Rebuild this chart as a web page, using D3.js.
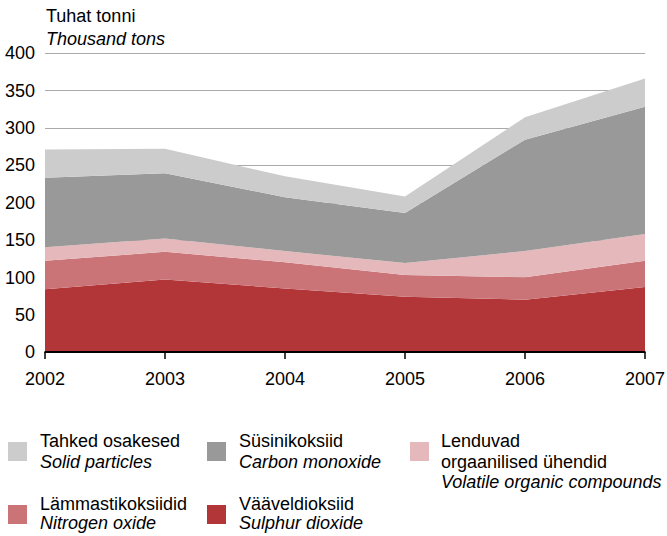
<!DOCTYPE html>
<html>
<head>
<meta charset="utf-8">
<script src="https://cdn.jsdelivr.net/npm/d3@7"></script>
<style>
  body { margin: 0; background: #fff; }
  svg { display: block; font-family: "Liberation Sans", Arial, sans-serif; }
  .grid line { stroke: #aaa; stroke-width: 1; }
  .tick-label { font-size: 18px; fill: #000; }
  .legend-text { font-size: 18px; fill: #000; }
  .it { font-style: italic; }
</style>
</head>
<body>
<svg width="667" height="536"></svg>
<script>
const years = [2002, 2003, 2004, 2005, 2006, 2007];
const yTicks = [0, 50, 100, 150, 200, 250, 300, 350, 400];

// Values in thousand tons, bottom layer first
const sulphurDioxide = [84, 97, 85, 74, 70, 87];
const nitrogenOxide = [38, 37, 35, 29, 30, 35];
const volatileOrganic = [18, 18, 15, 16, 35, 36];
const carbonMonoxide = [93, 87, 72, 67, 149, 170];
const solidParticles = [38, 33, 28, 22, 30, 38];

const series = [
  { key: "so2", values: sulphurDioxide, color: "#b23538", et: ["Vääveldioksiid"], en: "Sulphur dioxide" },
  { key: "nox", values: nitrogenOxide, color: "#cb7478", et: ["Lämmastikoksiidid"], en: "Nitrogen oxide" },
  { key: "voc", values: volatileOrganic, color: "#e5b9bb", et: ["Lenduvad", "orgaanilised ühendid"], en: "Volatile organic compounds" },
  { key: "co", values: carbonMonoxide, color: "#999999", et: ["Süsinikoksiid"], en: "Carbon monoxide" },
  { key: "solid", values: solidParticles, color: "#cccccc", et: ["Tahked osakesed"], en: "Solid particles" },
];

const svg = d3.select("svg");

const x = d3.scaleLinear().domain([2002, 2007]).range([45, 645]);
const y = d3.scaleLinear().domain([0, 400]).range([352, 53]);

// Build table for stack
const table = years.map((yr, i) => {
  const row = { year: yr };
  series.forEach((s) => (row[s.key] = s.values[i]));
  return row;
});
const stacked = d3.stack().keys(series.map((s) => s.key))(table);

// Gridlines
svg
  .append("g")
  .attr("class", "grid")
  .selectAll("line")
  .data(yTicks.filter((t) => t > 0))
  .enter()
  .append("line")
  .attr("x1", x(2002))
  .attr("x2", x(2007))
  .attr("y1", (d) => Math.round(y(d)) + 0.5)
  .attr("y2", (d) => Math.round(y(d)) + 0.5);

// Areas
const area = d3
  .area()
  .x((d) => x(d.data.year))
  .y0((d) => y(d[0]))
  .y1((d) => y(d[1]));

svg
  .selectAll(".layer")
  .data(stacked)
  .enter()
  .append("path")
  .attr("class", "layer")
  .attr("fill", (d, i) => series[i].color)
  .attr("d", area);

// Y tick labels
svg
  .selectAll(".ylab")
  .data(yTicks)
  .enter()
  .append("text")
  .attr("class", "tick-label")
  .attr("x", 35)
  .attr("y", (d) => y(d))
  .attr("dy", "0.35em")
  .attr("text-anchor", "end")
  .text((d) => d);

// X axis baseline and ticks
svg
  .append("line")
  .attr("x1", x(2002) - 0.5)
  .attr("x2", x(2007) + 0.5)
  .attr("y1", 352)
  .attr("y2", 352)
  .attr("stroke", "#000")
  .attr("stroke-width", 2.2);

svg
  .selectAll(".xtick")
  .data(years)
  .enter()
  .append("line")
  .attr("x1", (d) => x(d))
  .attr("x2", (d) => x(d))
  .attr("y1", 352)
  .attr("y2", 359)
  .attr("stroke", "#000")
  .attr("stroke-width", 1.5);

svg
  .selectAll(".xlab")
  .data(years)
  .enter()
  .append("text")
  .attr("class", "tick-label")
  .attr("x", (d) => x(d))
  .attr("y", 385)
  .attr("text-anchor", "middle")
  .text((d) => d);

// Unit title
svg.append("text").attr("class", "tick-label").attr("x", 46).attr("y", 22).text("Tuhat tonni");
svg.append("text").attr("class", "tick-label it").attr("x", 46).attr("y", 45).text("Thousand tons");

// Legend
const legendOrder = [
  { key: "solid", sx: 8, sy: 442, tx: 40, ty: 447 },
  { key: "co", sx: 207, sy: 442, tx: 239, ty: 447 },
  { key: "voc", sx: 410, sy: 442, tx: 441, ty: 447 },
  { key: "nox", sx: 8, sy: 505, tx: 40, ty: 510 },
  { key: "so2", sx: 207, sy: 505, tx: 239, ty: 510 },
];

legendOrder.forEach((l) => {
  const s = series.find((d) => d.key === l.key);
  const g = svg.append("g");
  g.append("rect")
    .attr("x", l.sx)
    .attr("y", l.sy)
    .attr("width", 19)
    .attr("height", 19)
    .attr("fill", s.color);
  const lineH = l.sy > 480 ? 19 : 20.5;
  s.et.forEach((t, i) => {
    g.append("text")
      .attr("class", "legend-text")
      .attr("x", l.tx)
      .attr("y", l.ty + i * lineH)
      .text(t);
  });
  g.append("text")
    .attr("class", "legend-text it")
    .attr("x", l.tx)
    .attr("y", l.ty + s.et.length * lineH)
    .text(s.en);
});
</script>
</body>
</html>
